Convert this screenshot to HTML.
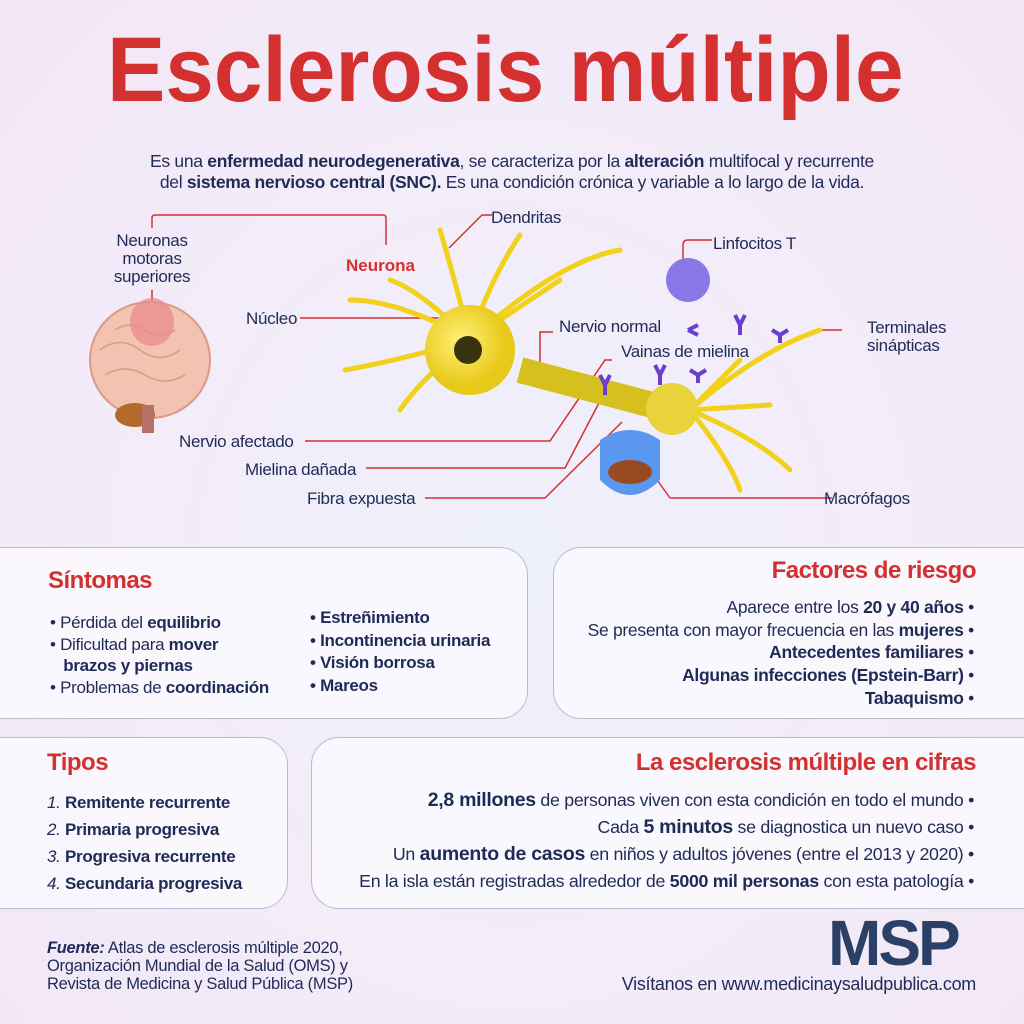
<!DOCTYPE html>
<html><head><meta charset="utf-8"><style>
*{margin:0;padding:0;box-sizing:border-box}
body{width:1024px;height:1024px;overflow:hidden;position:relative;font-family:"Liberation Sans",sans-serif;color:#1f2b56;background:radial-gradient(ellipse at 50% 55%,#eef0fb 0%,#f3ecf9 50%,#f1e6f5 100%)}
.a{position:absolute;white-space:nowrap}
.t{font-size:17px;letter-spacing:-0.3px}
b{font-weight:bold}
.red{color:#d3302f}
.box{position:absolute;background:rgba(250,249,254,0.85);border:1.5px solid #b9bccd}
.h{font-weight:bold;color:#d3302f;font-size:24px;letter-spacing:-0.5px}
.r{text-align:right}
</style></head><body>
<div class="a red" style="left:107px;top:18px;font-size:92px;font-weight:bold;transform:scaleX(0.95);transform-origin:0 0;letter-spacing:0px">Esclerosis múltiple</div>
<div class="a t" style="left:0;width:1024px;top:151px;text-align:center;line-height:21px;font-size:17.5px">Es una <b>enfermedad neurodegenerativa</b>, se caracteriza por la <b>alteración</b> multifocal y recurrente<br>del <b>sistema nervioso central (SNC).</b> Es una condición crónica y variable a lo largo de la vida.</div>

<svg class="a" style="left:0;top:190px" width="1024" height="340">
<defs><radialGradient id="g" cx="0.4" cy="0.4"><stop offset="0" stop-color="#fff27a"/><stop offset="1" stop-color="#e8c818"/></radialGradient></defs>
<g stroke="#d3302f" stroke-width="1.5" fill="none">
<path d="M152 38 V28 Q152 25 155 25 H383 Q386 25 386 28 V55"/>
<path d="M152 100 V125"/>
<path d="M300 128 H455 L482 160"/>
<path d="M449 58 L482 25 H492"/>
<path d="M683 82 V55 Q683 50 688 50 H712"/>
<path d="M820 140 H842"/>
<path d="M305 251 H550 L605 170 H612"/>
<path d="M366 278 H565 L600 211"/>
<path d="M425 308 H545 L622 232"/>
<path d="M670 308 H832"/>
<path d="M670 308 L650 280"/>
<path d="M540 190 V142 H553"/>
</g>
<ellipse cx="150" cy="170" rx="60" ry="58" fill="#f2c3b0" stroke="#d99a88" stroke-width="2"/>
<g stroke="#d99a88" fill="none" stroke-width="1.5"><path d="M100 160 q20 -15 40 0 t40 0"/><path d="M105 185 q20 -12 40 0 t40 0"/><path d="M115 140 q15 -10 30 0 t30 0"/></g>
<ellipse cx="152" cy="132" rx="22" ry="24" fill="#e98a8c" opacity="0.75"/>
<ellipse cx="135" cy="225" rx="20" ry="12" fill="#b26a2a"/>
<rect x="142" y="215" width="12" height="28" fill="#b8706a"/>
<g stroke="#f2d11a" stroke-width="5" fill="none" stroke-linecap="round">
<path d="M470 150 Q455 90 440 40"/><path d="M470 150 Q490 90 520 45"/><path d="M470 150 Q420 100 390 90"/><path d="M470 150 Q400 110 350 110"/>
<path d="M470 150 Q400 170 345 180"/><path d="M470 150 Q530 110 560 90"/><path d="M470 150 Q560 70 620 60"/><path d="M470 150 Q420 190 400 220"/>
<path d="M690 220 Q760 160 820 140"/><path d="M690 220 L770 215"/><path d="M690 220 Q760 250 790 280"/><path d="M690 220 L740 170"/><path d="M690 220 Q730 270 740 300"/>
</g>
<circle cx="470" cy="160" r="45" fill="url(#g)"/>
<circle cx="468" cy="160" r="14" fill="#3a3310"/>
<path d="M520 180 L690 225" stroke="#d6c020" stroke-width="26"/>
<ellipse cx="672" cy="219" rx="26" ry="26" fill="#e9d33a"/>
<circle cx="688" cy="90" r="22" fill="#8878e8"/>
<g stroke="#6a3fd0" stroke-width="4" fill="none"><path d="M688 140 l10 -5 m-10 5 l10 5"/><path d="M735 125 l5 10 l5 -10 m-5 10 v10"/><path d="M772 140 l8 5 l8 -5 m-8 5 v8"/><path d="M600 185 l5 10 l5 -10 m-5 10 v10"/><path d="M655 175 l5 10 l5 -10 m-5 10 v10"/><path d="M690 180 l8 5 l8 -5 m-8 5 v8"/></g>
<path d="M600 250 q30 -20 60 0 v40 q-30 30 -60 0z" fill="#5a98f0"/>
<ellipse cx="630" cy="282" rx="22" ry="12" fill="#9a4a20"/>
</svg>
<div class="a t" style="left:108px;top:232px;text-align:center;line-height:18px;width:88px">Neuronas<br>motoras<br>superiores</div>
<div class="a red" style="left:346px;top:256px;font-weight:bold;font-size:17px">Neurona</div>
<div class="a t" style="left:491px;top:208px">Dendritas</div>
<div class="a t" style="left:713px;top:234px">Linfocitos T</div>
<div class="a t" style="left:246px;top:309px">Núcleo</div>
<div class="a t" style="left:559px;top:317px">Nervio normal</div>
<div class="a t" style="left:621px;top:342px">Vainas de mielina</div>
<div class="a t" style="left:867px;top:319px;line-height:18px">Terminales<br>sinápticas</div>
<div class="a t" style="left:179px;top:432px">Nervio afectado</div>
<div class="a t" style="left:245px;top:460px">Mielina dañada</div>
<div class="a t" style="left:307px;top:489px">Fibra expuesta</div>
<div class="a t" style="left:824px;top:489px">Macrófagos</div>

<div class="box" style="left:-2px;top:547px;width:530px;height:172px;border-radius:0 28px 28px 0"></div>
<div class="box" style="left:553px;top:547px;width:475px;height:172px;border-radius:28px 0 0 28px"></div>
<div class="box" style="left:-2px;top:737px;width:290px;height:172px;border-radius:0 28px 28px 0"></div>
<div class="box" style="left:311px;top:737px;width:717px;height:172px;border-radius:28px 0 0 28px"></div>

<div class="a h" style="left:48px;top:567px">Síntomas</div>
<div class="a t" style="left:50px;top:612px;line-height:21.5px">• Pérdida del <b>equilibrio</b><br>• Dificultad para <b>mover</b><br>&nbsp;&nbsp;&nbsp;<b>brazos y piernas</b><br>• Problemas de <b>coordinación</b></div>
<div class="a t" style="left:310px;top:607px;line-height:22.5px"><b>• Estreñimiento<br>• Incontinencia urinaria<br>• Visión borrosa<br>• Mareos</b></div>

<div class="a h r" style="right:48px;top:557px">Factores de riesgo</div>
<div class="a t r" style="right:50px;top:596px;line-height:22.7px;font-size:17.5px">Aparece entre los <b>20 y 40 años</b> •<br>Se presenta con mayor frecuencia en las <b>mujeres</b> •<br><b>Antecedentes familiares</b> •<br><b>Algunas infecciones (Epstein-Barr)</b> •<br><b>Tabaquismo</b> •</div>

<div class="a h" style="left:47px;top:749px">Tipos</div>
<div class="a t" style="left:47px;top:789px;line-height:27px"><i>1.</i> <b>Remitente recurrente</b><br><i>2.</i> <b>Primaria progresiva</b><br><i>3.</i> <b>Progresiva recurrente</b><br><i>4.</i> <b>Secundaria progresiva</b></div>

<div class="a h r" style="right:48px;top:749px">La esclerosis múltiple en cifras</div>
<div class="a t r" style="right:50px;top:787px;line-height:27px;font-size:17.8px"><b style="font-size:19.5px">2,8 millones</b> de personas viven con esta condición en todo el mundo •<br>Cada <b style="font-size:19.5px">5 minutos</b> se diagnostica un nuevo caso •<br>Un <b style="font-size:19.5px">aumento de casos</b> en niños y adultos jóvenes (entre el 2013 y 2020) •<br>En la isla están registradas alrededor de <b>5000 mil personas</b> con esta patología •</div>

<div class="a t" style="left:47px;top:939px;line-height:18px;font-size:16.5px"><b><i>Fuente:</i></b> Atlas de esclerosis múltiple 2020,<br>Organización Mundial de la Salud (OMS) y<br>Revista de Medicina y Salud Pública (MSP)</div>
<div class="a" style="left:828px;top:911px;font-size:64px;font-weight:900;color:#2b4066;letter-spacing:-3px;line-height:64px">MSP</div>
<div class="a t" style="right:48px;top:974px;font-size:18px">Visítanos en www.medicinaysaludpublica.com</div>
</body></html>
